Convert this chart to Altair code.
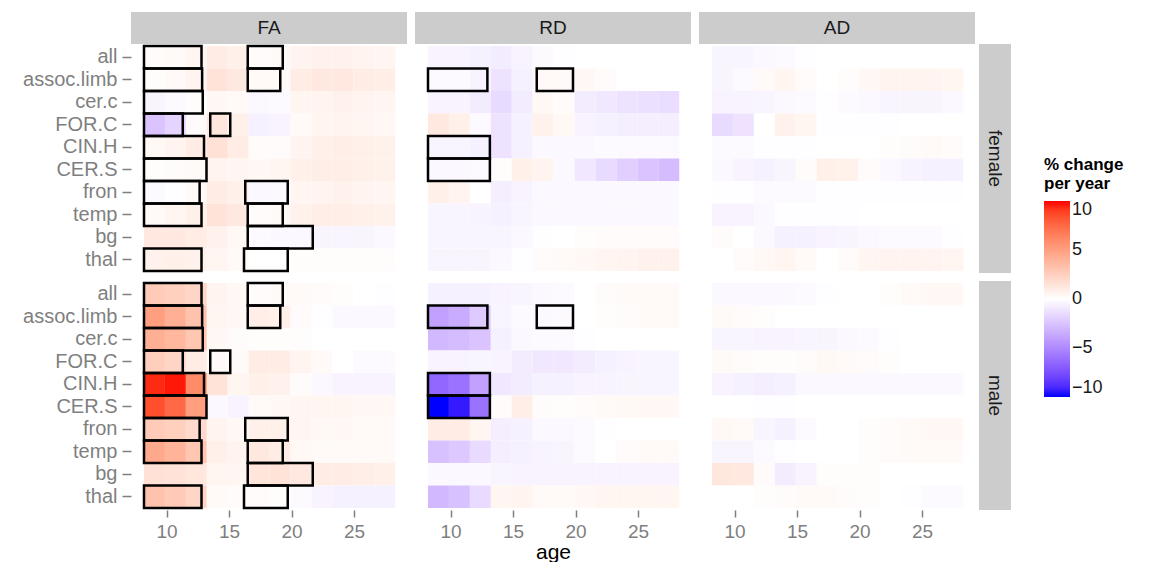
import altair as alt
import pandas as pd

FONT = "Liberation Sans"

TRACTS = ["all", "assoc.limb", "cer.c", "FOR.C", "CIN.H", "CER.S", "fron", "temp", "bg", "thal"]
MEASURES = ["FA", "RD", "AD"]
SEXES = ["female", "male"]

# age bins of the heat tiles
AGE_EDGES = [8.2, 9.875, 11.55, 13.225, 14.9, 16.575, 18.25, 19.925, 21.6, 23.275, 24.95, 26.625, 28.3]

# % change per year, one row per tract (TRACTS order), one value per age bin
FA_FEMALE = [
    [0.2, 0.3, 0.5, 1.0, 0.8, 0.2, 0.3, 0.6, 0.7, 0.7, 0.6, 0.5],
    [0.1, 0.3, 0.6, 1.5, 1.2, 0.3, 0.3, 1.0, 1.2, 1.2, 1.0, 0.9],
    [-0.4, -0.2, 0.1, 0.4, 0.3, -0.3, -0.2, 0.5, 0.6, 0.7, 0.6, 0.5],
    [-2.5, -1.8, 0.2, 1.3, 0.8, -0.6, -0.5, 0.3, 0.5, 0.6, 0.5, 0.4],
    [0.4, 0.6, 1.0, 1.6, 1.0, 0.2, 0.2, 0.6, 0.8, 0.9, 0.8, 0.7],
    [0.1, 0.2, 0.3, 0.6, 0.5, 0.4, 0.5, 0.8, 0.9, 0.9, 0.8, 0.7],
    [-0.2, -0.1, 0.3, 1.0, 0.8, -0.3, -0.3, 0.5, 0.6, 0.7, 0.6, 0.5],
    [0.3, 0.5, 0.8, 1.5, 1.2, 0.2, 0.3, 0.7, 0.9, 0.9, 0.8, 0.7],
    [1.2, 1.2, 1.0, 0.7, 0.4, -0.2, -0.3, -0.3, -0.4, -0.4, -0.4, -0.3],
    [0.7, 0.8, 0.7, 0.5, 0.3, 0.0, 0.0, 0.1, 0.1, 0.1, 0.1, 0.1],
]
FA_MALE = [
    [2.8, 2.5, 2.2, 0.6, 0.4, 0.2, 0.3, 0.3, 0.2, 0.1, 0.0, -0.1],
    [5.0, 4.2, 3.2, 0.5, 0.4, 0.9, 0.8, 0.2, -0.1, -0.3, -0.3, -0.3],
    [4.2, 3.8, 3.0, 0.4, 0.2, 0.1, 0.1, 0.1, 0.0, 0.0, 0.0, 0.0],
    [2.6, 2.2, 1.0, 0.3, 0.3, 1.0, 1.0, 0.6, 0.3, 0.0, -0.2, -0.2],
    [9.5, 9.8, 6.0, 1.5, 0.5, 0.8, 0.7, 0.2, -0.3, -0.5, -0.5, -0.5],
    [8.5, 7.5, 5.0, -0.3, -0.5, 0.3, 0.4, 0.5, 0.5, 0.5, 0.4, 0.4],
    [2.8, 2.5, 2.0, 0.6, 0.4, 0.8, 0.8, 0.5, 0.4, 0.4, 0.3, 0.3],
    [4.5, 4.0, 3.0, 0.8, 0.6, 1.2, 1.0, 0.4, 0.3, 0.3, 0.3, 0.3],
    [1.6, 1.5, 1.3, 0.5, 0.5, 1.4, 1.5, 1.2, 1.0, 1.0, 0.9, 0.8],
    [3.2, 2.8, 2.2, 0.3, 0.2, 0.2, 0.1, -0.2, -0.5, -0.6, -0.6, -0.6],
]
RD_FEMALE = [
    [-0.5, -0.5, -0.6, -0.8, -0.5, -0.2, -0.1, 0.0, 0.0, 0.0, 0.0, 0.0],
    [-0.2, -0.2, -0.5, -1.2, -0.6, 0.3, 0.3, 0.4, 0.2, 0.0, 0.0, 0.0],
    [-0.5, -0.5, -0.8, -1.5, -0.8, 0.4, 0.2, -0.8, -1.0, -1.2, -1.3, -1.4],
    [1.2, 0.8, -0.2, -1.2, -0.6, 0.7, 0.4, -0.5, -0.6, -0.7, -0.7, -0.7],
    [-0.4, -0.4, -0.6, -1.2, -0.6, -0.3, -0.3, -0.3, -0.2, -0.2, -0.2, -0.2],
    [-0.3, -0.3, -0.2, 0.1, 0.8, 0.6, -0.3, -1.0, -1.5, -2.0, -2.5, -2.8],
    [0.8, 0.6, 0.0, -0.7, -0.5, -0.3, -0.3, -0.3, -0.3, -0.3, -0.3, -0.3],
    [-0.4, -0.4, -0.5, -0.6, -0.4, -0.3, -0.3, -0.3, -0.3, -0.3, -0.3, -0.3],
    [-0.4, -0.4, -0.4, -0.4, -0.3, -0.1, 0.0, 0.1, 0.2, 0.2, 0.2, 0.2],
    [-0.4, -0.4, -0.4, -0.3, -0.1, 0.2, 0.3, 0.4, 0.5, 0.6, 0.7, 0.7],
]
RD_MALE = [
    [-0.6, -0.6, -0.6, -0.5, -0.4, -0.3, -0.2, 0.0, 0.2, 0.3, 0.3, 0.3],
    [-4.0, -3.5, -2.2, -0.4, -0.2, -0.3, -0.2, 0.0, 0.1, 0.2, 0.3, 0.3],
    [-3.0, -2.8, -2.5, -0.6, -0.3, -0.2, -0.2, -0.1, 0.0, 0.0, 0.0, 0.0],
    [-0.5, -0.5, -0.4, -0.5, -0.8, -1.0, -1.0, -0.8, -0.6, -0.5, -0.4, -0.4],
    [-6.5, -6.0, -4.0, -1.0, -0.8, -0.6, -0.6, -0.5, -0.5, -0.4, -0.4, -0.4],
    [-10.0, -9.5, -6.0, 0.2, 0.9, 0.2, 0.1, 0.2, 0.3, 0.4, 0.4, 0.4],
    [1.0, 1.0, 0.5, -0.7, -0.6, -0.3, -0.3, -0.2, -0.1, 0.0, 0.0, 0.0],
    [-2.6, -2.3, -1.5, -0.7, -0.6, -0.5, -0.4, -0.2, 0.0, 0.2, 0.3, 0.3],
    [-0.3, -0.3, -0.3, -0.4, -0.5, -0.5, -0.5, -0.5, -0.5, -0.5, -0.5, -0.5],
    [-3.0, -2.6, -1.5, 0.5, 0.6, 0.3, 0.3, 0.4, 0.5, 0.5, 0.5, 0.5],
]
AD_FEMALE = [
    [-0.4, -0.4, -0.3, -0.2, -0.1, 0.0, 0.0, 0.0, 0.0, 0.0, 0.0, 0.0],
    [-0.4, -0.2, 0.3, 0.5, 0.2, 0.0, 0.1, 0.4, 0.6, 0.6, 0.6, 0.5],
    [-0.5, -0.5, -0.4, -0.3, -0.2, -0.1, -0.2, -0.3, -0.4, -0.4, -0.4, -0.3],
    [-1.5, -1.2, 0.0, 0.7, 0.5, -0.1, -0.1, -0.1, -0.1, 0.0, 0.0, 0.0],
    [-0.2, -0.2, -0.1, -0.1, -0.1, 0.0, 0.0, 0.0, 0.1, 0.2, 0.3, 0.2],
    [-0.3, -0.5, -0.6, -0.4, 0.2, 0.8, 0.7, 0.2, -0.3, -0.5, -0.6, -0.6],
    [-0.1, -0.1, -0.2, -0.2, -0.2, -0.1, -0.1, -0.1, -0.1, -0.1, -0.1, -0.1],
    [-0.5, -0.5, -0.3, -0.1, -0.1, -0.1, -0.1, 0.0, 0.0, 0.0, 0.0, 0.0],
    [0.2, 0.0, -0.3, -0.6, -0.6, -0.5, -0.4, -0.3, -0.2, -0.2, -0.2, -0.1],
    [0.0, 0.2, 0.4, 0.5, 0.3, 0.0, 0.2, 0.5, 0.6, 0.6, 0.6, 0.5],
]
AD_MALE = [
    [-0.3, -0.3, -0.3, -0.3, -0.2, -0.1, 0.0, 0.0, 0.1, 0.3, 0.4, 0.4],
    [0.3, 0.2, 0.1, 0.0, 0.0, 0.0, 0.0, 0.0, 0.0, 0.0, 0.0, 0.0],
    [-0.4, -0.4, -0.5, -0.5, -0.4, -0.4, -0.3, -0.2, -0.1, 0.0, 0.0, 0.0],
    [0.3, 0.2, 0.1, 0.1, 0.2, 0.4, 0.3, 0.2, 0.1, 0.0, 0.0, 0.0],
    [-0.5, -0.6, -0.7, -0.6, -0.3, -0.3, -0.3, -0.3, -0.3, -0.3, -0.3, -0.3],
    [0.0, 0.0, -0.1, -0.1, 0.0, 0.0, 0.0, 0.0, 0.0, 0.0, 0.0, 0.0],
    [0.4, 0.3, -0.4, -0.6, -0.2, 0.0, 0.0, 0.1, 0.2, 0.3, 0.4, 0.4],
    [-0.4, -0.4, -0.2, -0.1, 0.0, 0.0, 0.0, 0.1, 0.2, 0.3, 0.3, 0.3],
    [1.3, 1.2, 0.2, -0.8, -0.5, 0.1, 0.1, 0.1, 0.0, 0.0, 0.0, 0.0],
    [0.0, 0.0, 0.1, 0.2, 0.3, 0.3, 0.2, 0.1, 0.0, -0.1, -0.2, -0.2],
]
VALUES = {
    ("FA", "female"): FA_FEMALE, ("FA", "male"): FA_MALE,
    ("RD", "female"): RD_FEMALE, ("RD", "male"): RD_MALE,
    ("AD", "female"): AD_FEMALE, ("AD", "male"): AD_MALE,
}

# significant age windows (measure, tract, start age, end age) - same for both sexes
BOXES = [
    ("FA", "all", 8.2, 12.8), ("FA", "all", 16.5, 19.3),
    ("FA", "assoc.limb", 8.2, 12.85), ("FA", "assoc.limb", 16.5, 19.1),
    ("FA", "cer.c", 8.2, 12.9),
    ("FA", "FOR.C", 8.2, 11.3), ("FA", "FOR.C", 13.5, 15.1),
    ("FA", "CIN.H", 8.2, 13.0),
    ("FA", "CER.S", 8.2, 13.2),
    ("FA", "fron", 8.2, 12.65), ("FA", "fron", 16.3, 19.7),
    ("FA", "temp", 8.2, 12.8), ("FA", "temp", 16.5, 19.3),
    ("FA", "bg", 16.5, 21.7),
    ("FA", "thal", 8.2, 12.8), ("FA", "thal", 16.2, 19.7),
    ("RD", "assoc.limb", 8.2, 12.95), ("RD", "assoc.limb", 16.9, 19.8),
    ("RD", "CIN.H", 8.2, 13.15),
    ("RD", "CER.S", 8.2, 13.15),
]

heat_rows = []
for (m, s), rows in VALUES.items():
    for r, tract in enumerate(TRACTS):
        for k, v in enumerate(rows[r]):
            heat_rows.append({"measure": m, "sex": s, "tract": tract,
                              "lo": AGE_EDGES[k], "hi": AGE_EDGES[k + 1], "value": v})
heat_df = pd.DataFrame(heat_rows)

box_rows = []
for s in SEXES:
    for m, tract, a0, a1 in BOXES:
        box_rows.append({"measure": m, "sex": s, "tract": tract, "start": a0, "end": a1})
box_df = pd.DataFrame(box_rows)

W, H = 276, 229
XDOM = [7.16, 29.24]
GREY = "#7f7f7f"

color_scale = alt.Scale(domain=[-10, 0, 10], range=["#0000ff", "#ffffff", "#ff0000"], interpolate="lab")
x_scale = alt.Scale(domain=XDOM, nice=False, zero=False)
y_scale = alt.Scale(domain=TRACTS, paddingInner=0, paddingOuter=0.09)

legend = alt.Legend(
    type="gradient",
    title=["% change", "per year"], orient="none", legendX=913, legendY=113,
    gradientLength=196, gradientThickness=26, values=[10, 5, 0, -5, -10],
    labelFontSize=18, labelColor="#1a1a1a", labelFont=FONT,
    titleFontSize=17, titleFontWeight="bold", titleColor="#000000", titleFont=FONT,
    titlePadding=8, direction="vertical", gradientStrokeWidth=0,
)


def panel(m, s, ci, ri):
    d = heat_df[(heat_df.measure == m) & (heat_df.sex == s)]
    b = box_df[(box_df.measure == m) & (box_df.sex == s)]
    if ri == 1:
        xaxis = alt.Axis(values=[10, 15, 20, 25], labelFontSize=19, labelColor=GREY, labelFont=FONT,
                         tickColor=GREY, tickSize=7, tickWidth=1.5, labelPadding=5, domain=False, grid=False,
                         title="age" if m == "RD" else None, titleFontSize=21, titleFont=FONT,
                         titleFontWeight="normal", titleColor="#000000", titlePadding=0)
    else:
        xaxis = None
    if ci == 0:
        yaxis = alt.Axis(labelFontSize=20, labelColor=GREY, labelFont=FONT, tickColor=GREY,
                         tickSize=9, tickWidth=1.5, labelPadding=5, domain=False, grid=False, title=None)
    else:
        yaxis = None
    heat = alt.Chart(d).mark_rect().encode(
        x=alt.X("lo:Q", scale=x_scale, axis=xaxis),
        x2="hi:Q",
        y=alt.Y("tract:N", scale=y_scale, axis=yaxis, sort=TRACTS),
        color=alt.Color("value:Q", scale=color_scale, legend=legend),
    )
    layers = [heat]
    if len(b):
        boxes = alt.Chart(b).mark_rect(fillOpacity=0, stroke="#000000", strokeWidth=2.5).encode(
            x=alt.X("start:Q", scale=x_scale),
            x2="end:Q",
            y=alt.Y("tract:N", scale=y_scale, sort=TRACTS),
        )
        layers.append(boxes)
    if ri == 0:
        sd = alt.Data(values=[{"lab": m}])
        layers.append(alt.Chart(sd).mark_rect(color="#cccccc").encode(
            x=alt.value(0), x2=alt.value(W), y=alt.value(-32), y2=alt.value(0)))
        layers.append(alt.Chart(sd).mark_text(fontSize=19, font=FONT, color="#1a1a1a").encode(
            x=alt.value(W / 2), y=alt.value(-16), text="lab:N"))
    if ci == 2:
        sd = alt.Data(values=[{"lab": s}])
        layers.append(alt.Chart(sd).mark_rect(color="#cccccc").encode(
            x=alt.value(W + 4), x2=alt.value(W + 36), y=alt.value(0), y2=alt.value(H)))
        layers.append(alt.Chart(sd).mark_text(fontSize=19, font=FONT, color="#1a1a1a", angle=90).encode(
            x=alt.value(W + 20), y=alt.value(H / 2), text="lab:N"))
    return alt.layer(*layers).properties(width=W, height=H)


rows = []
for ri, s in enumerate(SEXES):
    rows.append(alt.hconcat(*[panel(m, s, ci, ri) for ci, m in enumerate(MEASURES)], spacing=8))

chart = alt.vconcat(*rows, spacing=8).properties(
    padding={"left": 14, "top": 4, "right": 5, "bottom": 0}
).configure_view(strokeWidth=0)

chart.save("out.html", embed_options={"renderer": "svg", "actions": False})
